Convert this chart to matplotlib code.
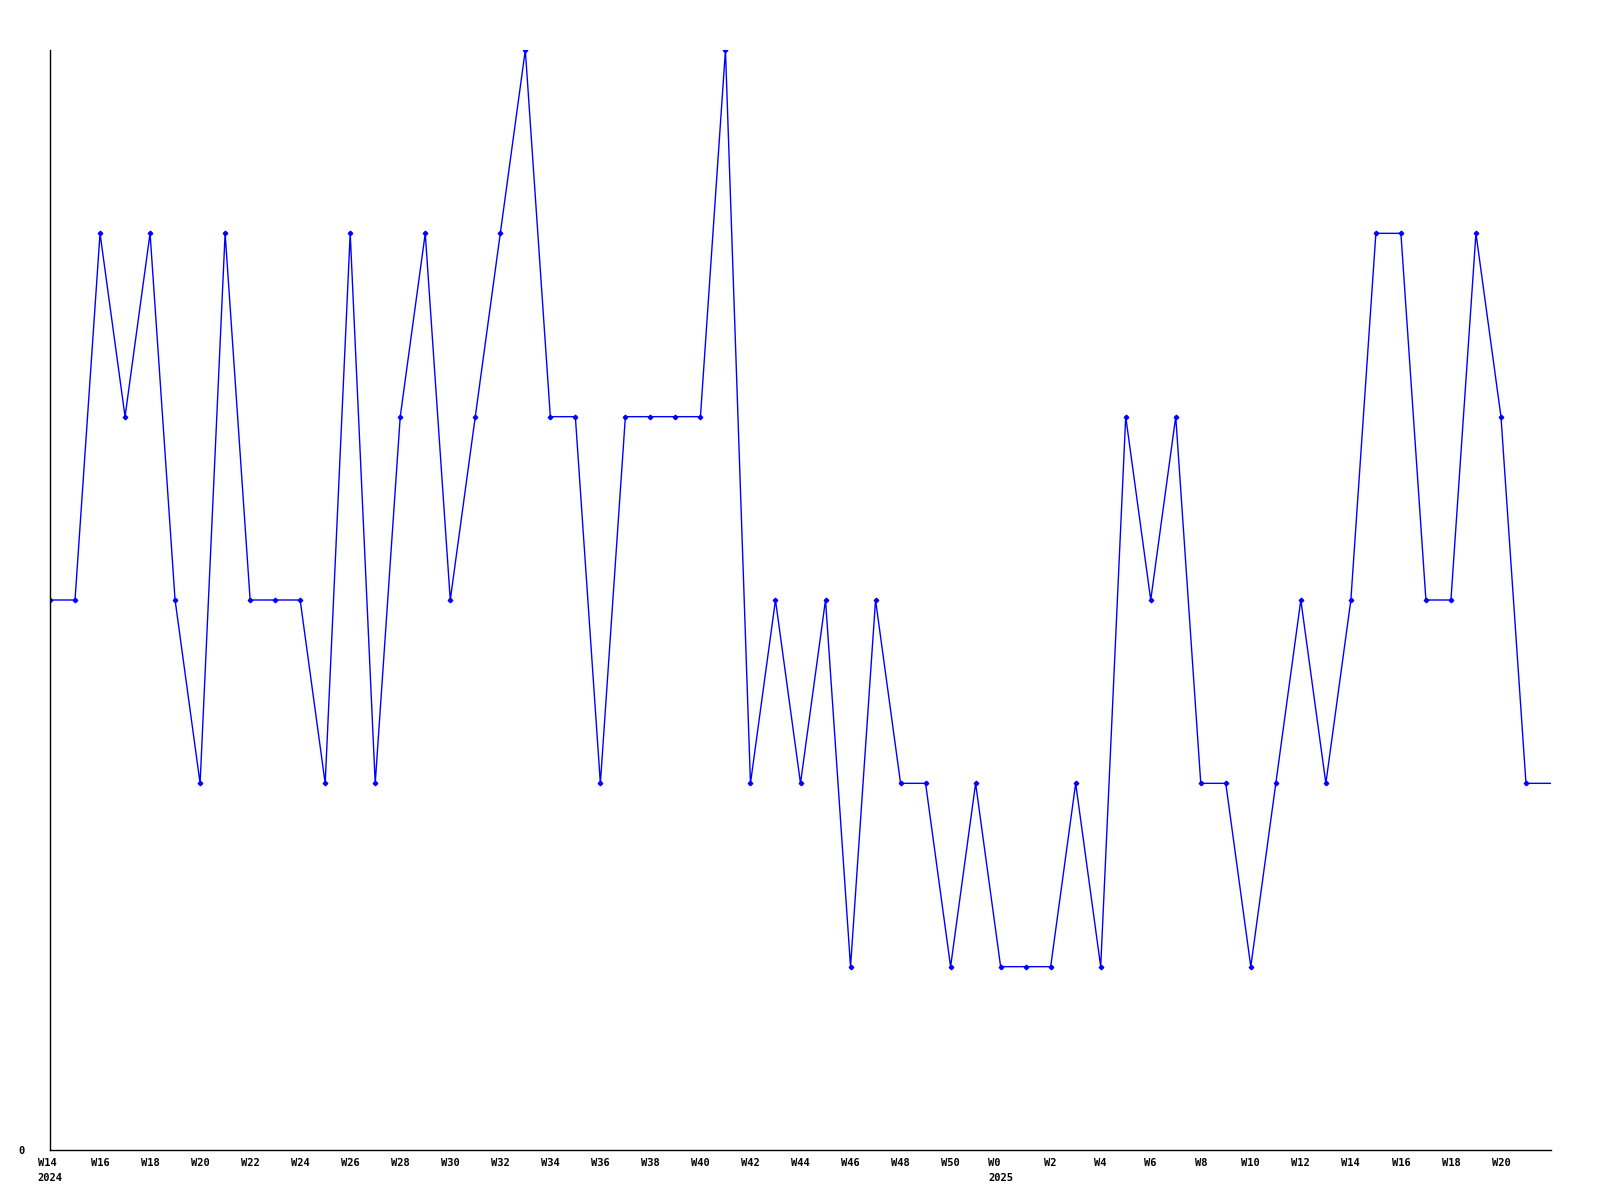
import matplotlib
matplotlib.use("Agg")
import matplotlib.pyplot as plt


# weekly counts, W14 2024 .. W22 2025
weeks_2024 = list(range(14, 52))
weeks_2025 = list(range(0, 23))
counts = [
    3, 3, 5, 4, 5, 3, 2, 5, 3, 3,
    3, 2, 5, 2, 4, 5, 3, 4, 5, 6,
    4, 4, 2, 4, 4, 4, 4, 6, 2, 3,
    2, 3, 1, 3, 2, 2, 1, 2, 1, 1,
    1, 2, 1, 4, 3, 4, 2, 2, 1, 2,
    3, 2, 3, 5, 5, 3, 3, 5, 4, 2,
    2,
]
y_ticks = [0]
y_max = 6


def week_labels():
    labels = []
    for wk in weeks_2024:
        labels.append(f"W{wk}\n2024" if wk == weeks_2024[0] else f"W{wk}")
    for wk in weeks_2025:
        labels.append(f"W{wk}\n2025" if wk == 0 else f"W{wk}")
    return labels


def main():
    labels = week_labels()
    xs = list(range(len(counts)))

    fig = plt.figure(figsize=(16, 12), dpi=100)
    ax = fig.add_axes([50 / 1600, 50 / 1200, 1501 / 1600, 1100 / 1200])

    # last week is still running: line only, no marker
    ax.plot(xs, counts, color="#0000ff", linewidth=1.0,
            marker="D", markersize=2.3, markevery=list(range(len(counts) - 1)))

    ax.set_xlim(0, len(counts) - 1)
    ax.set_ylim(0, y_max)

    tick_pos = [i for i, lab in enumerate(labels[:-1])
                if int(lab.split("\n")[0][1:]) % 2 == 0]
    ax.set_xticks(tick_pos)
    ax.set_xticklabels([labels[i] for i in tick_pos], family="DejaVu Sans Mono",
                       fontweight="bold", fontsize=7.5, linespacing=1.55,
                       ha="center", multialignment="left")
    ax.set_yticks(y_ticks)
    ax.set_yticklabels([str(v) for v in y_ticks], family="DejaVu Sans Mono",
                       fontweight="bold", fontsize=7.5)
    ax.tick_params(length=0, pad=6)
    ax.tick_params(axis="y", pad=18)

    for side in ("top", "right"):
        ax.spines[side].set_visible(False)
    for side in ("left", "bottom"):
        ax.spines[side].set_linewidth(1.0)
        ax.spines[side].set_color("black")

    fig.savefig("out.png", dpi=100)


if __name__ == "__main__":
    main()
